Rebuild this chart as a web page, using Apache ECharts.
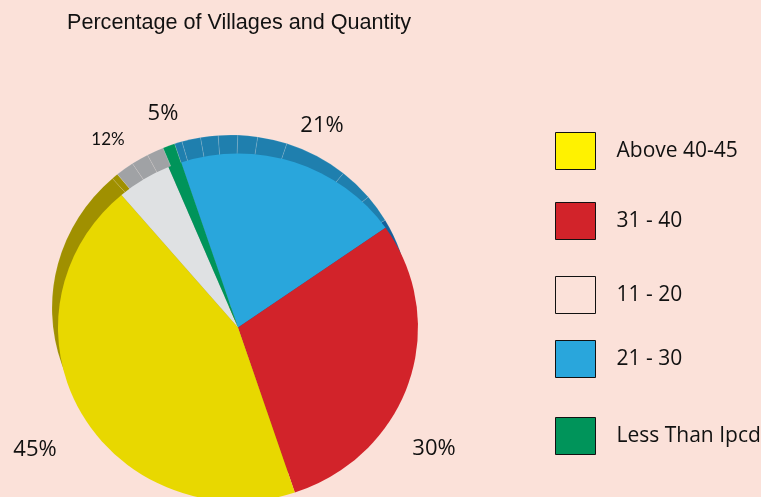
<!DOCTYPE html>
<html><head><meta charset="utf-8">
<style>html,body{margin:0;padding:0;background:#fbe1d9;overflow:hidden}#c{width:761px;height:497px}</style>
<script src="https://cdn.jsdelivr.net/npm/echarts@6/dist/echarts.min.js"></script></head>
<body><div id="c"></div>
<script>
const categories = ['21 - 30', '31 - 40', 'Above 40-45', '11 - 20', 'Less Than Ipcd'];
const shares = [20.4, 29.6, 43.9, 4.9, 1.2];
const printedLabels = ['21%', '30%', '45%', '12%', '5%'];
const sliceColors = ['#29a6dc', '#d2232a', '#e8d800', '#dfe1e3', '#00945a'];
const rimWidths = [2.5, 6.1, 5.7, 6.3, 6.4, 9.6, 20.7, 11.2, 9.4, 101.6, 157.4, 2.1, 6, 5.6, 5.5, 3.9];
const rimColors = ['#1f7fae','#1f7fae','#1f7fae','#1f7fae','#1f7fae','#1f7fae','#1f7fae','#1f7fae','#1f7fae','#14609a','#a09000','#a09000','#a0a2a5','#a0a2a5','#a0a2a5','#00945a'];
const legendOrder = ['Above 40-45', '31 - 40', '11 - 20', '21 - 30', 'Less Than Ipcd'];
const legendColors = ['#fff200', '#d2232a', 'transparent', '#29a6dc', '#00945a'];
const legendTops = [132, 202, 276, 340, 417];
const labelSpots = [[322,126],[434,449],[35,450],[108,140],[163,114]];

const chart = echarts.init(document.getElementById('c'), null, {renderer:'canvas'});
chart.setOption({
  backgroundColor:'#fbe1d9',
  animation:false,
  title:{text:'Percentage of Villages and Quantity',left:67,top:12,padding:0,
    textStyle:{fontFamily:'Liberation Sans',fontSize:21.6,fontWeight:'normal',color:'#111'}},
  legend:legendOrder.map((n,i)=>({
    left:555,top:legendTops[i],orient:'vertical',padding:0,
    itemWidth:40,itemHeight:37,itemGap:0,selectedMode:false,icon:'rect',
    data:[{name:n,icon:'rect',itemStyle:{color:legendColors[i],borderColor:'#111',borderWidth:1}}],
    textStyle:{fontFamily:'Open Sans',fontSize:21,color:'#111',padding:[0,0,0,16]}
  })),
  series:[
    {type:'pie',z:1,silent:true,center:[231,308],radius:[0,179],startAngle:108.4,clockwise:true,
     label:{show:false},labelLine:{show:false},
     itemStyle:{borderColor:'rgba(255,255,255,0.2)',borderWidth:0.6},
     data:rimWidths.map((v,i)=>({value:v,name:'rim'+i,itemStyle:{color:rimColors[i]}}))},
    {type:'pie',z:2,silent:true,center:[238,327.5],radius:[0,180],startAngle:108.4,clockwise:true,
     avoidLabelOverlap:false,
     labelLine:{show:false},
     label:{show:true,position:'outside',color:'#111',fontFamily:'Open Sans',fontSize:22,
       align:'center',verticalAlign:'middle'},
     labelLayout:p=>({x:labelSpots[p.dataIndex][0],y:labelSpots[p.dataIndex][1],align:'center',verticalAlign:'middle'}),
     data:categories.map((n,i)=>({value:shares[i],name:n,itemStyle:{color:sliceColors[i]},
       label:Object.assign({formatter:printedLabels[i]},
         i===3?{fontFamily:'Lato',fontSize:17}:{})}))}
  ]
});
// The source pie is slightly flattened: squash each pie view vertically about its own centre.
const flatten = 174/180;
chart.getModel().getSeries().forEach(s=>{
  const g = chart.getViewOfSeriesModel(s).group;
  g.originX = s.get('center')[0]; g.originY = s.get('center')[1];
  g.scaleY = flatten; g.markRedraw();
});
chart.getZr().refresh();
</script></body></html>
